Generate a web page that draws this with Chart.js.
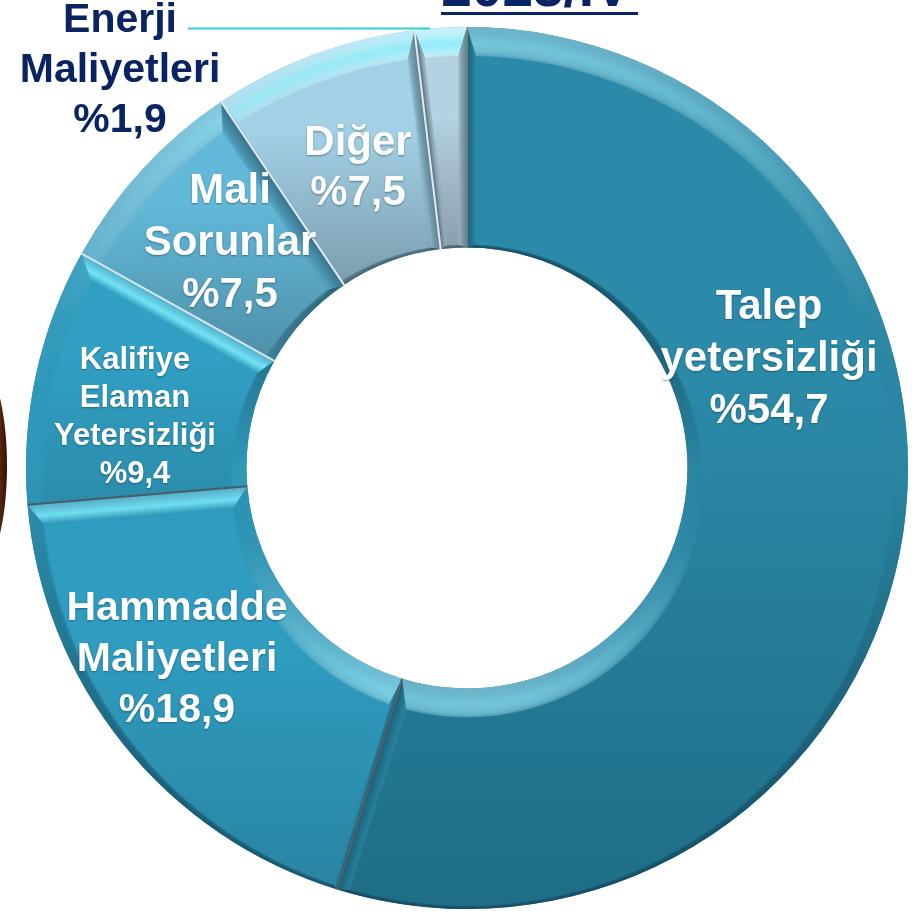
<!DOCTYPE html>
<html>
<head>
<meta charset="utf-8">
<style>
    html, body { margin: 0; padding: 0; background: #fff; overflow: hidden; }
    #wrap { position: relative; width: 920px; height: 916px; }
</style>
<script src="https://cdn.jsdelivr.net/npm/chart.js@4/dist/chart.umd.min.js"></script>
</head>
<body>
<div id="wrap"><canvas id="causeChart" width="920" height="916"></canvas></div>
<script>
//Chart data, clockwise from the top
const categories = ["Talep yetersizliği", "Hammadde Maliyetleri", "Kalifiye Elaman Yetersizliği", "Mali Sorunlar", "Diğer", "Enerji Maliyetleri"];
const shares = [54.7, 18.9, 9.4, 7.5, 7.5, 1.9];
const shareLabels = ["%54,7", "%18,9", "%9,4", "%7,5", "%7,5", "%1,9"];

//Slice colors, top and bottom of the face
const faceTop = ["#2b8aa8", "#2f9cc0", "#31a0c4", "#62b8d8", "#a3d0e4", "#b4d2e2"];
const faceBottom = ["#1f6d87", "#2a84a2", "#2c8cab", "#4f8fa8", "#7a9dae", "#8a9eac"];
const baseColors = ["#2a86a4", "#2d92b3", "#2f98ba", "#55a5c4", "#8db8cc", "#a0b8c6"];
const dividerColors = ["#6f8088", "#55626a", "#4a5c66", "#d5e8ec", "#dfeaee", "#e2ebef"];
const glowLevels = [0.42, 0.5, 0.55, 0.6, 0.85, 0.95];

//Where each label block is centered: x, y of first line, line height, font size
const labelBlocks = [
    {lines: ["Talep", "yetersizliği", shareLabels[0]], x: 769, y: 307, step: 52, size: 42},
    {lines: ["Hammadde", "Maliyetleri", shareLabels[1]], x: 177, y: 609, step: 51, size: 41},
    {lines: ["Kalifiye", "Elaman", "Yetersizliği", shareLabels[2]], x: 135, y: 360, step: 38, size: 31},
    {lines: ["Mali", "Sorunlar", shareLabels[3]], x: 230, y: 191, step: 52, size: 42},
    {lines: ["Diğer", shareLabels[4]], x: 358, y: 143, step: 50, size: 42},
    {lines: ["Enerji", "Maliyetleri", shareLabels[5]], x: 120, y: 21, step: 50, size: 41, color: "#0a2362"}
];

//Mix a hex color toward another one
function mix(hex, other, t) {
    const a = parseInt(hex.slice(1), 16), b = parseInt(other.slice(1), 16);
    const ch = s => Math.round(((a >> s) & 255) * (1 - t) + ((b >> s) & 255) * t);
    return `rgb(${ch(16)},${ch(8)},${ch(0)})`;
}

//Bevel color from how much an edge faces the light above (-1 to 1)
function litColor(base, lit, glow) {
    if (lit > 0.25) {
        return mix(base, "#c8f6ff", glow * Math.pow((lit - 0.25) / 0.75, 1.3));
    }
    return lit < 0 ? mix(base, "#06202c", 0.6 * -lit) : base;
}

//Ring bands shaded around the circle, sign is +1 for outer edge and -1 for inner
function ringGradient(ctx, x, y, base, sign, glow, streak) {
    const g = ctx.createConicGradient(0, x, y);
    for (let k = 0; k <= 36; k++) {
        const a = k / 36 * Math.PI * 2;
        const lit = -sign * Math.sin(a);
        if (streak) {
            const t = lit > 0.3 ? Math.pow((lit - 0.3) / 0.7, 1.6) * glow : 0;
            g.addColorStop(k / 36, `rgba(130,235,250,${t})`);
        } else {
            g.addColorStop(k / 36, litColor(base, lit, glow));
        }
    }
    return g;
}

//One straight side band of a slice, only the ones facing up get the bright streak
function fillSide(ctx, p, normal, base, glow) {
    const mx = (p[0][0] + p[1][0]) / 2, my = (p[0][1] + p[1][1]) / 2;
    const fx = (p[2][0] + p[3][0]) / 2, fy = (p[2][1] + p[3][1]) / 2;
    const width = (fx - mx) * normal[0] + (fy - my) * normal[1];
    const g = ctx.createLinearGradient(mx, my, mx + normal[0] * width, my + normal[1] * width);
    const lit = normal[1];
    if (lit > 0.7) {
        g.addColorStop(0, litColor(base, lit * 0.7, glow));
        g.addColorStop(0.55, mix(base, "#7ff0ff", Math.min(0.9, glow + 0.3)));
    } else {
        const dark = mix(base, "#06202c", lit < 0 ? 0.55 : 0.38);
        g.addColorStop(0, dark);
        g.addColorStop(0.5, mix(base, "#06202c", 0.2));
    }
    g.addColorStop(1, base);
    ctx.fillStyle = g;
    ctx.beginPath();
    p.forEach((q, i) => i ? ctx.lineTo(q[0], q[1]) : ctx.moveTo(q[0], q[1]));
    ctx.closePath();
    ctx.fill();
}

//Draws bevel and face of one slice from the arc element geometry
function drawSlice(ctx, arc, i) {
    const {x, y, startAngle, endAngle, innerRadius, outerRadius} = arc.getProps(["x", "y", "startAngle", "endAngle", "innerRadius", "outerRadius"], true);
    const base = baseColors[i], glow = glowLevels[i];
    const inset = 16, drop = 13, sideInset = 9;
    const faceOuter = outerRadius - inset, faceInner = innerRadius + inset;
    const span = endAngle - startAngle;
    const side = Math.min(sideInset, span * faceInner * 0.35);
    const at = (r, a, dy) => [x + r * Math.cos(a), y + dy + r * Math.sin(a)];
    const midRadius = (outerRadius + innerRadius) / 2;

    ctx.save();
    ctx.beginPath();
    ctx.arc(x, y, outerRadius, startAngle, endAngle);
    ctx.arc(x, y, innerRadius, endAngle, startAngle, true);
    ctx.closePath();
    ctx.clip();

    const oStart = startAngle + side / faceOuter, oEnd = endAngle - side / faceOuter;
    const iStart = startAngle + side / faceInner, iEnd = endAngle - side / faceInner;

    //Outer band
    ctx.fillStyle = ringGradient(ctx, x, y, base, 1, glow);
    ctx.beginPath();
    ctx.arc(x, y, outerRadius + 1, startAngle, endAngle);
    ctx.arc(x, y, midRadius, endAngle, startAngle, true);
    ctx.closePath();
    ctx.fill();

    //Inner band
    ctx.fillStyle = ringGradient(ctx, x, y, base, -1, glow);
    ctx.beginPath();
    ctx.arc(x, y, midRadius, startAngle, endAngle);
    ctx.arc(x, y, innerRadius - 1, endAngle, startAngle, true);
    ctx.closePath();
    ctx.fill();

    //Soft bright streaks along both bands
    ctx.filter = "blur(4px)";
    ctx.lineWidth = 10;
    ctx.strokeStyle = ringGradient(ctx, x, y, base, 1, glow, true);
    ctx.beginPath();
    ctx.arc(x, y + drop / 2, outerRadius - inset / 2 - 2, startAngle, endAngle);
    ctx.stroke();
    ctx.strokeStyle = ringGradient(ctx, x, y, base, -1, glow, true);
    ctx.beginPath();
    ctx.arc(x, y + drop / 2, innerRadius + inset / 2 + 2, startAngle, endAngle);
    ctx.stroke();
    ctx.filter = "none";

    //Radial side bands, normals point into the slice
    const startNormal = [-Math.sin(startAngle), Math.cos(startAngle)];
    const endNormal = [Math.sin(endAngle), -Math.cos(endAngle)];
    fillSide(ctx, [at(innerRadius, startAngle, 0), at(outerRadius, startAngle, 0), at(faceOuter, oStart, drop), at(faceInner, iStart, drop)], startNormal, base, glow);
    fillSide(ctx, [at(innerRadius, endAngle, 0), at(outerRadius, endAngle, 0), at(faceOuter, oEnd, drop), at(faceInner, iEnd, drop)], endNormal, base, glow);

    //Flat face, drawn solid once so the bands do not show through the soft edge
    const ys = [];
    for (let k = 0; k <= 12; k++) {
        ys.push(Math.sin(startAngle + span * k / 12));
    }
    const yTop = y + Math.min(...ys.map(v => v * (v < 0 ? outerRadius : innerRadius)));
    const yBot = y + Math.max(...ys.map(v => v * (v > 0 ? outerRadius : innerRadius)));
    const face = ctx.createLinearGradient(0, yTop, 0, yBot);
    face.addColorStop(0, faceTop[i]);
    face.addColorStop(0.4, faceTop[i]);
    face.addColorStop(1, faceBottom[i]);
    ctx.fillStyle = face;
    [0, 2].forEach(blur => {
        ctx.filter = blur ? `blur(${blur}px)` : "none";
        ctx.beginPath();
        ctx.arc(x, y + drop, faceOuter, oStart, oEnd);
        ctx.arc(x, y + drop, faceInner, iEnd, iStart, true);
        ctx.closePath();
        ctx.fill();
    });
    ctx.filter = "none";
    ctx.restore();

    //Thin divider on the slice start
    ctx.strokeStyle = dividerColors[i];
    ctx.lineWidth = 2;
    ctx.beginPath();
    ctx.moveTo(...at(innerRadius, startAngle, 0));
    ctx.lineTo(...at(outerRadius, startAngle, 0));
    ctx.stroke();
}

const bevelPlugin = {
    id: "bevel",
    afterDatasetsDraw(chart) {
        const ctx = chart.ctx;
        chart.getDatasetMeta(0).data.forEach((arc, i) => drawSlice(ctx, arc, i));
    }
};

const textPlugin = {
    id: "sliceText",
    afterDraw(chart) {
        const ctx = chart.ctx;
        ctx.save();
        ctx.textAlign = "center";

        //Callout line to the Enerji label
        ctx.strokeStyle = "#35cfd0";
        ctx.lineWidth = 2;
        ctx.beginPath();
        ctx.moveTo(188, 28.5);
        ctx.lineTo(430, 28.5);
        ctx.stroke();

        //Title is cut by the top edge of the picture
        ctx.fillStyle = "#0a2362";
        ctx.font = "bold 55px 'Liberation Sans'";
        ctx.textBaseline = "alphabetic";
        ctx.fillText("2023/IV", 536, 6);
        ctx.fillRect(441, 12, 197, 3);

        ctx.textBaseline = "middle";
        labelBlocks.forEach(block => {
            ctx.font = `bold ${block.size}px 'Liberation Sans'`;
            ctx.fillStyle = block.color || "#ffffff";
            ctx.shadowColor = block.color ? "transparent" : "rgba(0,40,60,0.45)";
            ctx.shadowBlur = 2;
            ctx.shadowOffsetY = 1;
            block.lines.forEach((line, n) => ctx.fillText(line, block.x, block.y + n * block.step));
        });
        ctx.restore();
    }
};

//Dark shape cut by the left edge, sits behind everything
const backdropPlugin = {
    id: "backdrop",
    beforeDraw(chart) {
        const ctx = chart.ctx;
        const g = ctx.createLinearGradient(0, 0, 8, 0);
        g.addColorStop(0, "#5a2310");
        g.addColorStop(1, "#2c0e05");
        ctx.save();
        ctx.fillStyle = g;
        ctx.beginPath();
        ctx.ellipse(-22, 466, 29, 104, 0, 0, Math.PI * 2);
        ctx.fill();
        ctx.restore();
    }
};

new Chart(document.getElementById("causeChart").getContext("2d"), {
    type: "doughnut",
    data: {
        labels: categories,
        datasets: [{
            data: shares,
            backgroundColor: baseColors,
            borderWidth: 0,
            hoverOffset: 0
        }]
    },
    options: {
        responsive: false,
        animation: false,
        cutout: "50%",
        layout: {padding: {left: 26, right: 12, top: 27, bottom: 7}},
        plugins: {legend: {display: false}, title: {display: false}, tooltip: {enabled: false}}
    },
    plugins: [backdropPlugin, bevelPlugin, textPlugin]
});
</script>
</body>
</html>
